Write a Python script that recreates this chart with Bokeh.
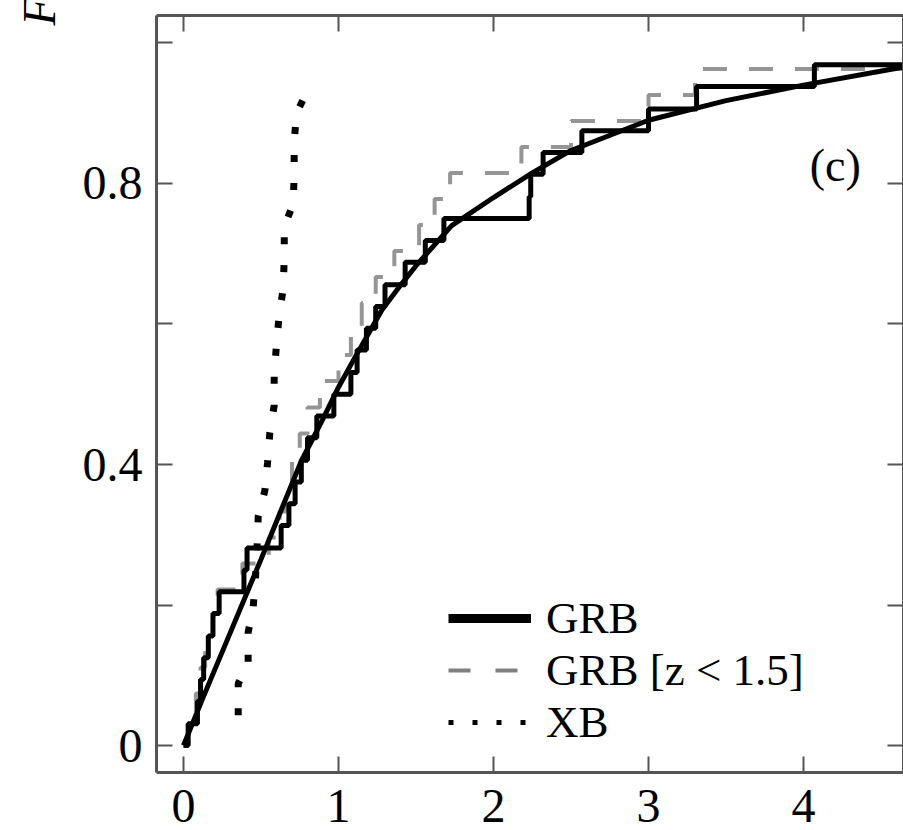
from math import pi
from bokeh.plotting import figure
from bokeh.models import (LinearAxis, FixedTicker, Legend, LegendItem, Label,
                          Range1d, CustomJSTickFormatter, Title)
from bokeh.embed import file_html
from bokeh.resources import INLINE

NAN = float("nan")

# ---- data ----
# GRB full sample: empirical CDF (jump location, F after jump)
grb_x = [0.00, 0.03, 0.09, 0.11, 0.13, 0.16, 0.19, 0.23, 0.39, 0.41, 0.63,
         0.68, 0.72, 0.76, 0.80, 0.86, 0.97, 1.08, 1.12, 1.18, 1.24, 1.30,
         1.43, 1.56, 1.68, 2.23, 2.24, 2.32, 2.57, 3.00, 3.31, 4.07, 4.70]
grb_F = [0.000, 0.031, 0.063, 0.094, 0.125, 0.156, 0.188, 0.219, 0.250,
         0.281, 0.313, 0.344, 0.375, 0.406, 0.438, 0.469, 0.500, 0.531,
         0.563, 0.594, 0.625, 0.656, 0.688, 0.719, 0.750, 0.781, 0.813,
         0.844, 0.875, 0.906, 0.938, 0.969, 0.969]

# GRB smooth model curve
fit_x = [0.00, 0.12, 0.31, 0.50, 0.76, 0.90, 1.00, 1.10, 1.28, 1.40, 1.50,
         1.73, 2.00, 2.25, 2.50, 3.00, 3.50, 4.00, 4.70]
fit_F = [0.000, 0.065, 0.165, 0.265, 0.405, 0.465, 0.510, 0.550, 0.620,
         0.655, 0.683, 0.740, 0.780, 0.815, 0.847, 0.890, 0.918, 0.940, 0.968]

# GRB [z < 1.5]: empirical CDF
grbz_x = [0.00, 0.03, 0.08, 0.11, 0.14, 0.19, 0.22, 0.38, 0.55, 0.62, 0.66,
          0.70, 0.75, 0.80, 0.88, 1.00, 1.08, 1.15, 1.24, 1.36, 1.52, 1.62,
          1.72, 2.18, 2.50, 3.00, 3.30, 4.70]
grbz_F = [0.000, 0.037, 0.074, 0.111, 0.148, 0.185, 0.222, 0.259, 0.296,
          0.333, 0.370, 0.407, 0.444, 0.481, 0.519, 0.556, 0.593, 0.630,
          0.667, 0.704, 0.741, 0.778, 0.815, 0.852, 0.889, 0.926, 0.963, 0.963]

# XB: dotted CDF
xb_x = [0.353, 0.353, 0.417, 0.417, 0.450, 0.465, 0.475, 0.482, 0.525, 0.542,
        0.557, 0.585, 0.585, 0.600, 0.617, 0.643, 0.650, 0.650, 0.708, 0.714,
        0.714, 0.729, 0.806]
xb_F = [0.043, 0.088, 0.116, 0.161, 0.198, 0.240, 0.285, 0.326, 0.363, 0.402,
        0.445, 0.484, 0.528, 0.571, 0.612, 0.650, 0.694, 0.739, 0.771, 0.814,
        0.859, 0.900, 0.935]

x_ticks = [0, 1, 2, 3, 4]
y_ticks = [0.0, 0.4, 0.8]
y_minor = [0.2, 0.6, 1.0]
labels = ["GRB", "GRB [z < 1.5]", "XB"]
panel_tag = "(c)"
y_title = "F"

FONT = "Liberation Serif"
AX = "#555555"

p = figure(width=903, height=830, output_backend="svg", toolbar_location=None,
           x_range=Range1d(-0.1742, 4.645), y_range=Range1d(-0.0384, 1.0391),
           x_axis_type=None, y_axis_type=None,
           min_border_left=155, min_border_right=0, min_border_top=15,
           min_border_bottom=58)
p.outline_line_color = None
p.background_fill_color = "white"


def style(ax, show):
    ax.axis_line_color = AX
    ax.axis_line_width = 3
    ax.major_tick_in = 16
    ax.major_tick_out = 0
    ax.major_tick_line_color = AX
    ax.major_tick_line_width = 2
    ax.minor_tick_in = 16
    ax.minor_tick_out = 0
    ax.minor_tick_line_color = AX
    ax.minor_tick_line_width = 2
    if show:
        ax.major_label_text_font = FONT
        ax.major_label_text_font_size = "48px"
        ax.major_label_text_color = "black"
    else:
        ax.major_label_text_font_size = "0px"
        ax.major_label_standoff = 0


xt = FixedTicker(ticks=x_ticks, minor_ticks=[])
yt = FixedTicker(ticks=y_ticks, minor_ticks=y_minor)
yfmt = CustomJSTickFormatter(code="return tick == 0 ? '0' : tick.toFixed(1);")

bx = LinearAxis(ticker=xt); style(bx, True); bx.major_label_standoff = 17
tx = LinearAxis(ticker=xt); style(tx, False)
ly = LinearAxis(ticker=yt, formatter=yfmt); style(ly, True); ly.major_label_standoff = 14
ry = LinearAxis(ticker=yt); style(ry, False)
p.add_layout(bx, "below")
p.add_layout(tx, "above")
p.add_layout(ly, "left")
p.add_layout(ry, "right")

# y-axis title, cut at the top like the reference
p.add_layout(Title(text=y_title, align="right", vertical_align="top",
                   offset=-18, standoff=26, text_font=FONT,
                   text_font_style="italic", text_font_size="46px",
                   text_color="black"), "left")

# curves
p.step(grbz_x, grbz_F, mode="after", line_color="#959595", line_width=4,
       line_dash="24 22")
p.line(xb_x, xb_F, line_color="black", line_width=7, line_dash="7 21")
p.step(grb_x, grb_F, mode="after", line_color="black", line_width=5)
p.line(fit_x, fit_F, line_color="black", line_width=5)

# legend glyph renderers (style only, nothing drawn in the frame)
lg1 = p.line([NAN], [NAN], line_color="black", line_width=9)
lg2 = p.line([NAN], [NAN], line_color="#808080", line_width=4, line_dash="22 25")
lg3 = p.line([NAN], [NAN], line_color="black", line_width=5, line_dash="5 19")

legend = Legend(items=[LegendItem(label=labels[0], renderers=[lg1]),
                       LegendItem(label=labels[1], renderers=[lg2]),
                       LegendItem(label=labels[2], renderers=[lg3])],
                location=(292, 24), glyph_width=83, glyph_height=50,
                label_height=50, label_standoff=15, spacing=0, padding=0,
                margin=0, border_line_color=None, background_fill_alpha=0,
                label_text_font=FONT, label_text_font_size="45px",
                label_text_color="black")
p.add_layout(legend)

p.add_layout(Label(x=4.04, y=0.826, text=panel_tag, text_font=FONT,
                   text_font_size="46px", text_baseline="middle",
                   text_align="left", text_color="black"))

open("out.html", "w").write(file_html(p, INLINE))
